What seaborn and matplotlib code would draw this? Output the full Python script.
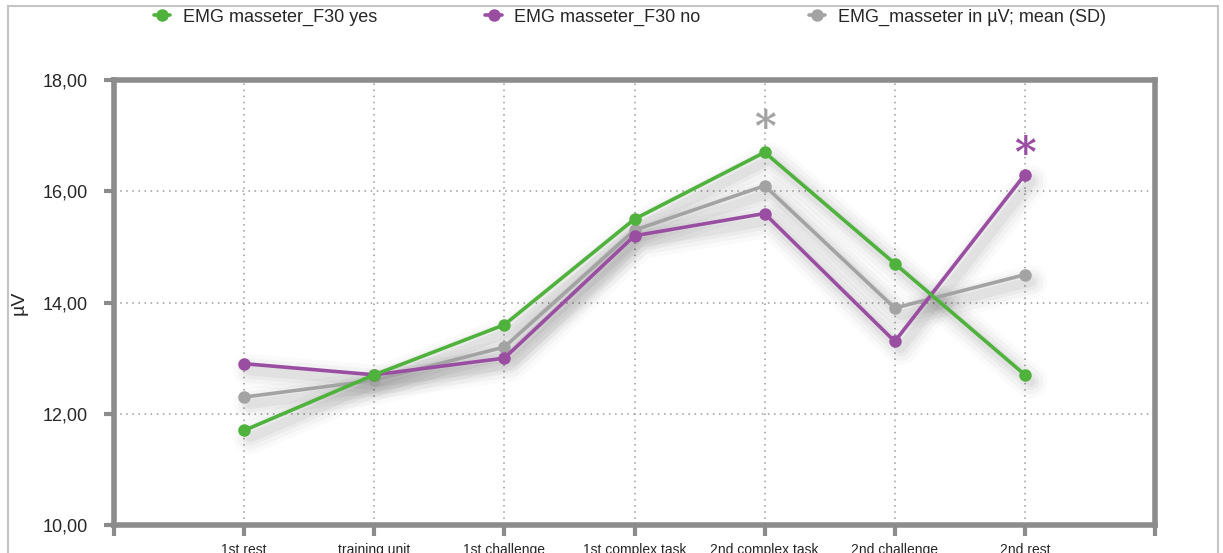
import matplotlib
matplotlib.use("Agg")
import matplotlib.pyplot as plt
import matplotlib.transforms as mtransforms
from matplotlib.patches import Rectangle
from matplotlib.lines import Line2D
import seaborn as sns
import pandas as pd

# Data
phases = ["1st rest", "training unit", "1st challenge", "1st complex task",
          "2nd complex task", "2nd challenge", "2nd rest"]
f30_yes = [11.7, 12.7, 13.6, 15.5, 16.7, 14.7, 12.7]
f30_no = [12.9, 12.7, 13.0, 15.2, 15.6, 13.3, 16.3]
overall_mean = [12.3, 12.6, 13.2, 15.3, 16.1, 13.9, 14.5]
series_names = ["EMG masseter_F30 yes", "EMG masseter_F30 no",
                "EMG_masseter in µV; mean (SD)"]
y_ticks = [10, 12, 14, 16, 18]
# significance markers: (phase index, y position, series colour index)
sig_marks = [(4, 17.12, 2), (6, 16.66, 1)]

colors = ["#4fb23c", "#9a4ea2", "#a3a3a3"]

df = pd.concat([
    pd.DataFrame({"pos": range(len(phases)), "value": vals, "series": name})
    for name, vals in zip(series_names, [f30_yes, f30_no, overall_mean])
])

sns.set_style("white")
plt.rcParams["font.family"] = ["Liberation Sans", "DejaVu Sans"]

fig = plt.figure(figsize=(12.23, 5.53), dpi=100)
ax = fig.add_axes([114 / 1223, 1 - 525 / 553, (1155 - 114) / 1223, (525 - 80) / 553])

# outer frame
fig.patches.append(Rectangle((8 / 1223, -0.05), (1218 - 8) / 1223, 1.05 - 6 / 553,
                             transform=fig.transFigure, fill=False,
                             edgecolor="#c4c4c4", linewidth=1.5))

# grid
for i in range(len(phases)):
    ax.axvline(i, color="#9a9a9a", linestyle=(0, (1, 3)), linewidth=1.1, zorder=1)
for y in y_ticks[1:-1]:
    ax.axhline(y, color="#9a9a9a", linestyle=(0, (1, 3)), linewidth=1.1, zorder=1)

# soft drop shadow under each series (offset right/down, stacked translucent strokes)
shadow_tr = ax.transData + mtransforms.ScaledTranslation(6 / 100, -7 / 100, fig.dpi_scale_trans)
for k in range(3):
    vals = df[df["series"] == series_names[k]]
    for w, a in [(24, 0.02), (18, 0.026), (12, 0.032), (7, 0.04)]:
        ax.plot(vals["pos"], vals["value"], color="black", alpha=a, linewidth=w,
                solid_capstyle="round", solid_joinstyle="round",
                transform=shadow_tr, zorder=2)

order = [2, 1, 0]
for k in order:
    sub = df[df["series"] == series_names[k]]
    sns.lineplot(data=sub, x="pos", y="value", ax=ax, color=colors[k],
                 linewidth=2.6, marker="o", markersize=9, markeredgewidth=0,
                 zorder=3 + (2 - k), legend=False)

for idx, yv, ci in sig_marks:
    ax.text(idx, yv, "*", color=colors[ci], fontsize=30, ha="center", va="center",
            family=["DejaVu Serif"], fontweight="bold")

ax.set_xlim(-1, len(phases))
ax.set_ylim(10, 18)
ax.set_xticks(range(-1, len(phases) + 1))
ax.set_xticklabels([""] + phases + [""], fontsize=10)
ax.set_yticks(y_ticks)
ax.set_yticklabels([f"{v:.2f}".replace(".", ",") for v in y_ticks], fontsize=13)
ax.tick_params(axis="x", length=8, width=3, color="#8c8c8c", pad=5, direction="out")
ax.tick_params(axis="y", length=7, width=3, color="#8c8c8c", pad=12, direction="out")
ax.tick_params(bottom=True, left=True)
ax.set_xlabel("")
ax.set_ylabel("µV", fontsize=14)
ax.yaxis.set_label_coords(-0.083, 0.5)
for s in ax.spines.values():
    s.set_color("#8c8c8c")
    s.set_linewidth(4)
    s.set_visible(True)

handles = [Line2D([0], [0], color=c, linewidth=2.6, marker="o", markersize=9,
                  markeredgewidth=0) for c in colors]
fig.legend(handles, series_names, loc="center", bbox_to_anchor=(0.515, 1 - 17 / 553),
           ncol=3, frameon=False, fontsize=13, handlelength=0.9, handletextpad=0.7,
           columnspacing=6.0)

fig.savefig("out.png", dpi=100)
